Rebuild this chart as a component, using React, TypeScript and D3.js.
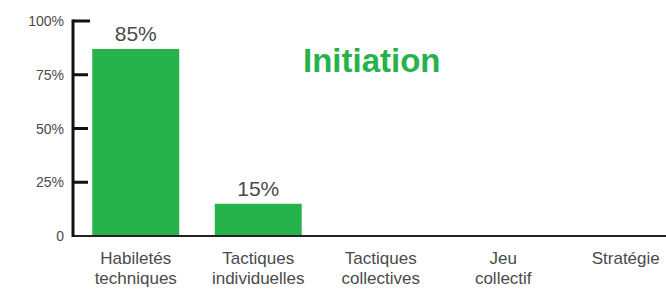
import {scaleBand, scaleLinear} from "d3";

const categories = [
    ["Habiletés", "techniques"],
    ["Tactiques", "individuelles"],
    ["Tactiques", "collectives"],
    ["Jeu", "collectif"],
    ["Stratégie"],
];
const values = [87, 15, 0, 0, 0];
const valueLabels = ["85%", "15%", "", "", ""];
const yTicks = [0, 25, 50, 75, 100];
const yTickLabels = ["0", "25%", "50%", "75%", "100%"];
const title = "Initiation";

const WIDTH = 666;
const HEIGHT = 290;
const GREEN = "#27b34b";
const TEXT = "#4a4a4a";

export default function App() {
    const x = scaleBand<number>()
        .domain(values.map((_, i) => i))
        .range([74.5, 687])
        .paddingInner(0.29)
        .paddingOuter(0.145);
    const y = scaleLinear()
        .domain([0, 100])
        .range([236, 21]);
    const axisX = 73;

    return <svg width={WIDTH} height={HEIGHT} style={{position: "absolute", left: 0, top: 0, background: "#fff"}}
                fontFamily="'Liberation Sans', Arial, sans-serif">
        {values.map((v, i) => v > 0 && (
            <rect key={i} x={x(i)} y={y(v)} width={x.bandwidth()} height={y(0) - y(v)} fill={GREEN}/>
        ))}
        {valueLabels.map((l, i) => l && (
            <text key={i} x={(x(i) ?? 0) + x.bandwidth() / 2} y={y(values[i]) - 8} textAnchor="middle"
                  fontSize={21} fill={TEXT}>{l}</text>
        ))}
        {/* baseline */}
        <line x1={axisX} x2={WIDTH} y1={y(0)} y2={y(0)} stroke="#222" strokeWidth={2}/>
        {/* y axis */}
        <line x1={axisX} x2={axisX} y1={y(100) - 1.5} y2={y(0) + 1} stroke="#111" strokeWidth={3}/>
        {yTicks.filter(t => t > 0).map(t => (
            <line key={t} x1={axisX} x2={t === 100 ? 90 : 88} y1={y(t)} y2={y(t)} stroke="#111" strokeWidth={3}/>
        ))}
        {yTicks.map((t, i) => (
            <text key={t} x={64} y={y(t) + 5} textAnchor="end" fontSize={14} fill={TEXT}>{yTickLabels[i]}</text>
        ))}
        {categories.map((lines, i) => (
            <text key={i} textAnchor="middle" fontSize={17} fill={TEXT}>
                {lines.map((line, j) => (
                    <tspan key={j} x={(x(i) ?? 0) + x.bandwidth() / 2} y={264 + j * 20}>{line}</tspan>
                ))}
            </text>
        ))}
        <text x={303} y={72} fontSize={33} fontWeight="bold" fill={GREEN}>{title}</text>
    </svg>;
}
